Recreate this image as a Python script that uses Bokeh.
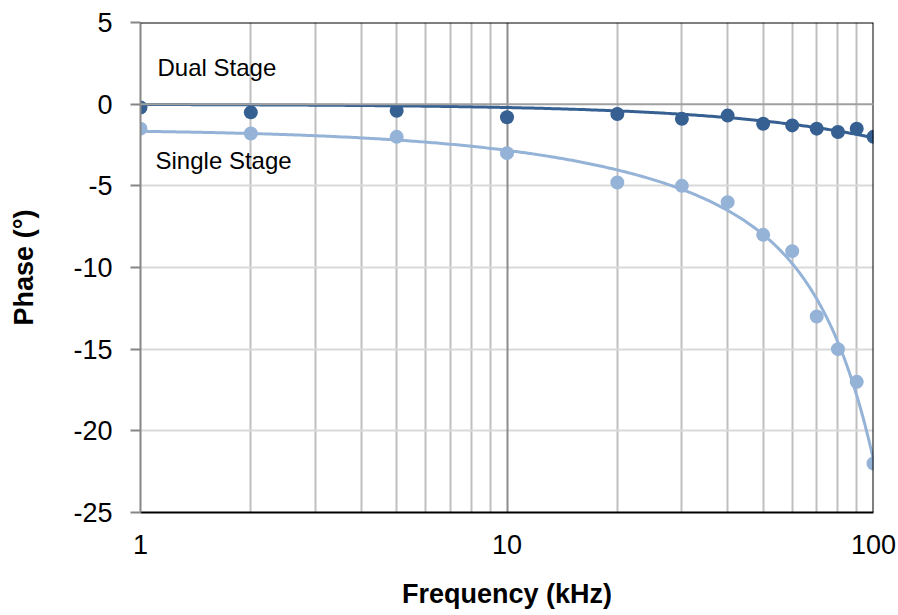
import numpy as np
from bokeh.plotting import figure
from bokeh.models import FixedTicker, Grid, Span, Label
from bokeh.embed import file_html
from bokeh.resources import INLINE

# Measured phase (degrees) versus frequency (kHz)
freq_khz = [1, 2, 5, 10, 20, 30, 40, 50, 60, 70, 80, 90, 100]
phase_dual = [-0.2, -0.5, -0.4, -0.8, -0.6, -0.9, -0.7, -1.2, -1.3, -1.5, -1.7, -1.5, -2.0]
phase_single = [-1.5, -1.8, -2.0, -3.0, -4.8, -5.0, -6.0, -8.0, -9.0, -13.0, -15.0, -17.0, -22.0]

y_ticks = [-25, -20, -15, -10, -5, 0, 5]
x_ticks = [1, 10, 100]
x_minor = [2, 3, 4, 5, 6, 7, 8, 9, 20, 30, 40, 50, 60, 70, 80, 90]

FONT = "'Liberation Sans', Arial, sans-serif"
DARK = "#376092"
LIGHT = "#95B3D7"

p = figure(width=898, height=615, x_axis_type="log", x_range=(1, 100), y_range=(-25, 5),
           output_backend="svg", toolbar_location=None,
           min_border_left=140, min_border_right=25, min_border_top=22, min_border_bottom=103)
p.outline_line_color = None
p.background_fill_color = "white"

# axes
xa = p.xaxis[0]
xa.ticker = FixedTicker(ticks=x_ticks)
xa.major_label_overrides = {t: str(t) for t in x_ticks}
xa.axis_label = "Frequency (kHz)"
xa.axis_line_color = "black"
xa.axis_line_width = 2
xa.major_tick_out = 0
xa.major_tick_in = 0
xa.minor_tick_out = 0
xa.minor_tick_in = 0
xa.major_label_standoff = 22
xa.axis_label_standoff = 22

ya = p.yaxis[0]
ya.ticker = FixedTicker(ticks=y_ticks)
ya.major_label_overrides = {t: str(t) for t in y_ticks}
ya.axis_label = "Phase (°)"
ya.axis_line_color = "#868686"
ya.axis_line_width = 2
ya.major_tick_line_color = "#868686"
ya.major_tick_line_width = 2
ya.major_tick_out = 10
ya.major_tick_in = 0
ya.minor_tick_out = 0
ya.minor_tick_in = 0
ya.major_label_standoff = 18
ya.axis_label_standoff = 31

for ax in (xa, ya):
    ax.major_label_text_font = FONT
    ax.major_label_text_font_size = "27px"
    ax.major_label_text_color = "black"
    ax.axis_label_text_font = FONT
    ax.axis_label_text_font_size = "27px"
    ax.axis_label_text_font_style = "bold"
    ax.axis_label_text_color = "black"

# grids
p.xgrid.ticker = FixedTicker(ticks=x_minor)
p.xgrid.grid_line_color = "#BFBFBF"
p.xgrid.grid_line_width = 2
p.ygrid.ticker = FixedTicker(ticks=[-20, -15, -10, -5])
p.ygrid.grid_line_color = "#D9D9D9"
p.ygrid.grid_line_width = 2
p.add_layout(Grid(dimension=0, ticker=FixedTicker(ticks=[10]),
                  grid_line_color="#8C8C8C", grid_line_width=2))

# frame edges and zero line
p.add_layout(Span(location=5, dimension="width", line_color="black", line_width=2))
p.add_layout(Span(location=100, dimension="height", line_color="black", line_width=2))
p.add_layout(Span(location=0, dimension="width", line_color="#A0A0A0", line_width=2))

# trend lines fitted to the measurements
xf = np.array(freq_khz, dtype=float)
xs = np.logspace(0, 2, 300)
# dual stage: straight line through the origin
slope_dual = np.sum(xf * np.array(phase_dual)) / np.sum(xf * xf)
# single stage: cubic polynomial
fit_single = np.polyfit(xf, np.array(phase_single), 3)

p.line(xs, np.polyval(fit_single, xs), line_color=LIGHT, line_width=3)
p.line(xs, slope_dual * xs, line_color=DARK, line_width=3)

p.scatter(freq_khz, phase_single, size=14, fill_color=LIGHT, line_color=None)
p.scatter(freq_khz, phase_dual, size=14, fill_color=DARK, line_color=None)

p.add_layout(Label(x=1.113, y=2.25, text="Dual Stage", text_font=FONT,
                   text_font_size="24px", text_baseline="middle", text_color="black"))
p.add_layout(Label(x=1.099, y=-3.45, text="Single Stage", text_font=FONT,
                   text_font_size="24px", text_baseline="middle", text_color="black"))

open("out.html", "w").write(file_html(p, INLINE))
